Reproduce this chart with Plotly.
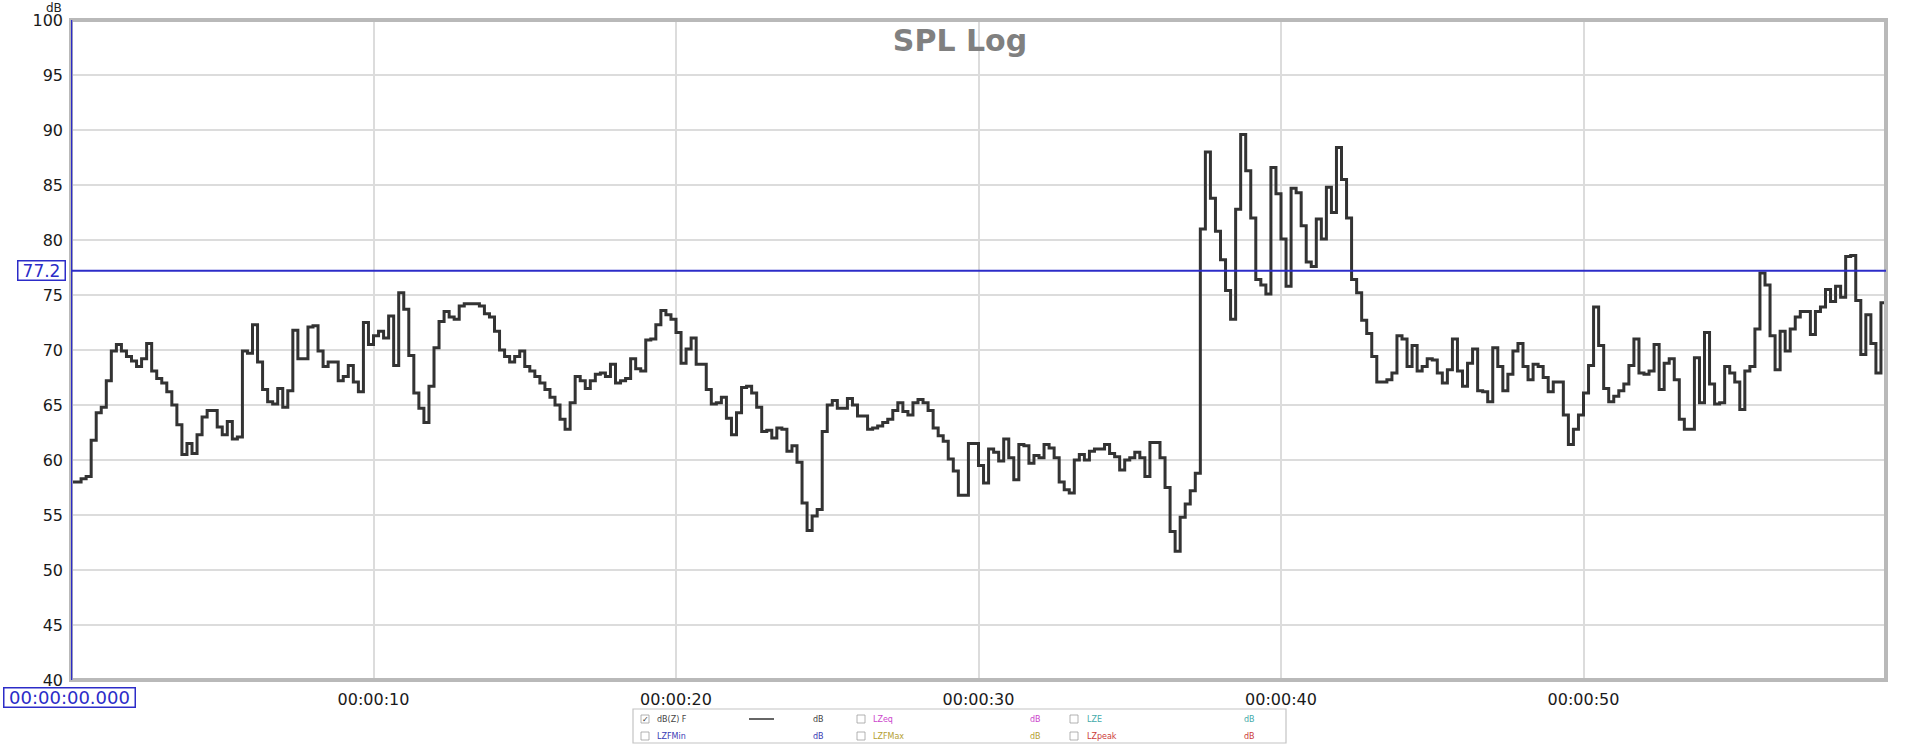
import plotly.graph_objects as go

# ---------------- data ----------------
SAMPLE_RATE_HZ = 6  # one level value every 1/6 s

spl_db = [
    # 0 - 16 s
    58.0, 58.0, 58.3, 58.5, 61.8, 64.3, 64.8, 67.2, 69.9, 70.5,
    69.9, 69.4, 69.0, 68.5, 69.2, 70.6, 68.1, 67.4, 67.0, 66.2,
    65.0, 63.2, 60.5, 61.5, 60.6, 62.3, 63.9, 64.5, 64.5, 63.0,
    62.3, 63.5, 61.9, 62.1, 69.9, 69.7, 72.3, 68.9, 66.4, 65.3,
    65.1, 66.5, 64.8, 66.3, 71.8, 69.2, 69.2, 72.1, 72.2, 69.9,
    68.5, 68.9, 68.9, 67.2, 67.6, 68.6, 67.1, 66.2, 72.5, 70.5,
    71.3, 71.7, 71.1, 73.1, 68.6, 75.2, 73.7, 69.5, 66.1, 64.7,
    63.4, 66.7, 70.2, 72.6, 73.5, 73.0, 72.8, 74.0, 74.2, 74.2,
    74.2, 74.0, 73.3, 73.0, 71.7, 70.0, 69.4, 68.9, 69.4, 69.9,
    68.5, 68.1, 67.6, 67.0, 66.4, 65.7, 65.0,
    # 16 - 32 s
    63.7, 62.8, 65.2, 67.6, 67.2, 66.5, 67.2, 67.8, 67.9, 67.6,
    68.7, 67.0, 67.2, 67.4, 69.2, 68.3, 68.1, 70.9, 71.0, 72.3,
    73.6, 73.2, 72.8, 71.6, 68.8, 70.1, 71.1, 68.7, 68.7, 66.4,
    65.1, 65.2, 65.7, 63.8, 62.3, 64.3, 66.6, 66.7, 66.1, 64.8,
    62.6, 62.7, 62.0, 62.9, 62.8, 60.8, 61.3, 59.8, 56.1, 53.6,
    54.9, 55.5, 62.6, 65.0, 65.4, 64.7, 64.7, 65.6, 65.0, 64.0,
    64.0, 62.8, 62.9, 63.1, 63.4, 63.7, 64.5, 65.2, 64.4, 64.1,
    65.2, 65.5, 65.2, 64.5, 62.9, 62.2, 61.7, 60.1, 59.0, 56.8,
    56.8, 61.5, 61.5, 59.5, 57.9, 61.0, 60.7, 59.9, 61.9, 60.2,
    58.2, 61.4, 61.3, 59.7, 60.4,
    # 32 - 37.3 s
    60.2, 61.4, 61.1, 60.2, 58.0, 57.3, 57.0, 60.0, 60.5, 60.0,
    60.8, 61.0, 61.0, 61.4, 60.6, 60.3, 59.1, 60.0, 60.2, 60.7,
    60.2, 58.5, 61.6, 61.6, 60.2, 57.5, 53.5, 51.7, 54.8, 56.0,
    57.2, 58.8,
    # 37.3 - 47 s
    81.0, 88.0, 83.8, 80.8, 78.2, 75.4, 72.8, 82.8, 89.6, 86.3,
    82.0, 76.4, 75.9, 75.1, 86.6, 84.2, 80.1, 75.8, 84.7, 84.3,
    81.3, 78.0, 77.6, 81.9, 80.1, 84.8, 82.5, 88.4, 85.5, 82.0,
    76.4, 75.2, 72.7, 71.5, 69.4, 67.1, 67.1, 67.3, 67.9, 71.3,
    71.0, 68.5, 70.4, 68.1, 68.5, 69.2, 69.1, 67.9, 67.0, 68.2,
    71.0, 68.1, 66.7, 68.8, 70.1, 66.3, 66.2, 65.3,
    # 47 - 60 s
    70.2, 68.5, 66.3, 67.8, 69.9, 70.6, 68.5, 67.3, 68.7, 68.5,
    67.5, 66.2, 67.1, 67.1, 64.1, 61.4, 62.8, 64.1, 66.1, 68.6,
    73.9, 70.4, 66.5, 65.3, 65.8, 66.3, 66.9, 68.6, 71.0, 67.9,
    67.8, 68.1, 70.5, 66.4, 68.8, 69.2, 67.3, 63.7, 62.8, 62.8,
    69.3, 65.2, 71.6, 66.9, 65.1, 65.2, 68.5, 67.9, 67.1, 64.6,
    68.1, 68.5, 71.9, 77.0, 75.9, 71.3, 68.2, 71.7, 69.9, 71.9,
    73.0, 73.5, 73.5, 71.4, 73.5, 73.9, 75.5, 74.4, 75.8, 74.8,
    78.5, 78.6, 74.5, 69.6, 73.2, 70.6, 67.9, 74.3,
]

x_tick_seconds = [10, 20, 30, 40, 50, 60]
x_tick_labels = ["00:00:10", "00:00:20", "00:00:30", "00:00:40", "00:00:50", "00:01:00"]
y_tick_db = [40, 45, 50, 55, 60, 65, 70, 75, 80, 85, 90, 95, 100]
y_tick_labels = [str(v) for v in y_tick_db]

cursor_level_db = 77.2
cursor_level_label = "77.2"
cursor_time_s = 0
cursor_time_label = "00:00:00.000"

legend_names = ["dB(Z) F", "LZeq", "LZE", "LZFMin", "LZFMax", "LZpeak"]
legend_units = ["dB", "dB", "dB", "dB", "dB", "dB"]
legend_colors = ["#444444", "#cc44cc", "#44aaaa", "#3a3ab4", "#b4a032", "#cc3a3a"]
legend_checked = [True, False, False, False, False, False]

# ---------------- build ----------------
time_s = [i / SAMPLE_RATE_HZ for i in range(len(spl_db))]
time_s.append(len(spl_db) / SAMPLE_RATE_HZ)       # hold last value to record end
level = spl_db + [spl_db[-1]]

W, H = 1920, 746
L, R, T, B = 71, 34, 20, 66
PW, PH = W - L - R, H - T - B

def px_x(px):
    return (px - L) / PW

def px_y(py):
    return (H - B - py) / PH

BLUE = "#2c2cc8"
FONT = "DejaVu Sans"

fig = go.Figure()
fig.add_trace(go.Scatter(
    x=time_s, y=level, mode="lines",
    line=dict(shape="hv", color="#333333", width=3),
    showlegend=False, hoverinfo="skip",
))

shapes = []
annotations = []

# frame
shapes.append(dict(type="rect", xref="paper", yref="paper", x0=0, x1=1, y0=0, y1=1,
                   line=dict(color="#b9b9b9", width=4), layer="above"))
# cursor lines
shapes.append(dict(type="line", xref="paper", yref="y", x0=0, x1=1,
                   y0=cursor_level_db, y1=cursor_level_db,
                   line=dict(color=BLUE, width=2), layer="above"))
shapes.append(dict(type="line", xref="x", yref="paper", x0=cursor_time_s, x1=cursor_time_s,
                   y0=0, y1=1, line=dict(color=BLUE, width=2.5), layer="above"))

# cursor readouts
annotations.append(dict(xref="paper", yref="y", x=px_x(41), y=cursor_level_db,
                        xanchor="center", yanchor="middle",
                        text=cursor_level_label, showarrow=False,
                        font=dict(family=FONT, size=17, color=BLUE),
                        bordercolor=BLUE, borderwidth=1.5, bgcolor="white",
                        width=46, height=18, borderpad=0))
annotations.append(dict(xref="paper", yref="paper", x=px_x(69.5), y=px_y(697.5),
                        xanchor="center", yanchor="middle",
                        text=cursor_time_label, showarrow=False,
                        font=dict(family=FONT, size=18, color=BLUE),
                        bordercolor=BLUE, borderwidth=1.5, bgcolor="white",
                        width=130, height=18, borderpad=0))
# unit label
annotations.append(dict(xref="paper", yref="paper", x=px_x(63), y=px_y(0),
                        xanchor="right", yanchor="top", text="dB", showarrow=False,
                        font=dict(family=FONT, size=12, color="#222222"), borderpad=0))

# legend panel
shapes.append(dict(type="rect", xref="paper", yref="paper",
                   x0=px_x(633), x1=px_x(1286), y0=px_y(743), y1=px_y(709),
                   line=dict(color="#c4c4c4", width=1.2), fillcolor="white"))
col_box = [645, 861, 1074]
col_text = [655, 871, 1085]
col_unit = [818, 1035, 1249]
row_y = [719, 736]
for i, name in enumerate(legend_names):
    r, c = divmod(i, 3)
    cy = row_y[r]
    shapes.append(dict(type="rect", xref="paper", yref="paper",
                       x0=px_x(col_box[c] - 4), x1=px_x(col_box[c] + 4),
                       y0=px_y(cy + 4), y1=px_y(cy - 4),
                       line=dict(color="#a0a0a0", width=0.8), fillcolor="white"))
    if legend_checked[i]:
        annotations.append(dict(xref="paper", yref="paper", x=px_x(col_box[c]), y=px_y(cy),
                                xanchor="center", yanchor="middle",
                                text="✓", showarrow=False,
                                font=dict(family=FONT, size=8, color="#333333")))
    annotations.append(dict(xref="paper", yref="paper", x=px_x(col_text[c]), y=px_y(cy),
                            xanchor="left", yanchor="middle", text=name, showarrow=False,
                            font=dict(family=FONT, size=8, color=legend_colors[i])))
    annotations.append(dict(xref="paper", yref="paper", x=px_x(col_unit[c]), y=px_y(cy),
                            xanchor="center", yanchor="middle",
                            text=legend_units[i], showarrow=False,
                            font=dict(family=FONT, size=8, color=legend_colors[i])))
    if legend_checked[i]:
        shapes.append(dict(type="line", xref="paper", yref="paper",
                           x0=px_x(749), x1=px_x(774), y0=px_y(cy), y1=px_y(cy),
                           line=dict(color="#333333", width=1.5)))

fig.update_layout(
    width=W, height=H,
    margin=dict(l=L, r=R, t=T, b=B, pad=0),
    paper_bgcolor="white", plot_bgcolor="white",
    title=dict(text="<b>SPL Log</b>", x=0.5, xref="container", xanchor="center",
               y=1 - 40 / H, yref="container", yanchor="middle",
               font=dict(family=FONT, size=30, color="#808080")),
    xaxis=dict(range=[0, 60], tickmode="array", tickvals=x_tick_seconds, ticktext=x_tick_labels,
               showgrid=True, gridcolor="#dcdcdc", gridwidth=2, zeroline=False,
               showline=False, ticks="", ticklabelstandoff=8,
               tickfont=dict(family=FONT, size=16, color="#1a1a1a")),
    yaxis=dict(range=[40, 100], tickmode="array", tickvals=y_tick_db, ticktext=y_tick_labels,
               showgrid=True, gridcolor="#dcdcdc", gridwidth=2, zeroline=False,
               showline=False, ticks="", ticklabelstandoff=7,
               tickfont=dict(family=FONT, size=16, color="#1a1a1a")),
    shapes=shapes, annotations=annotations,
)

fig.write_html(
    "out.html",
    config={"displayModeBar": False},
    post_script="document.body.style.margin='0';document.body.style.padding='0';",
)
